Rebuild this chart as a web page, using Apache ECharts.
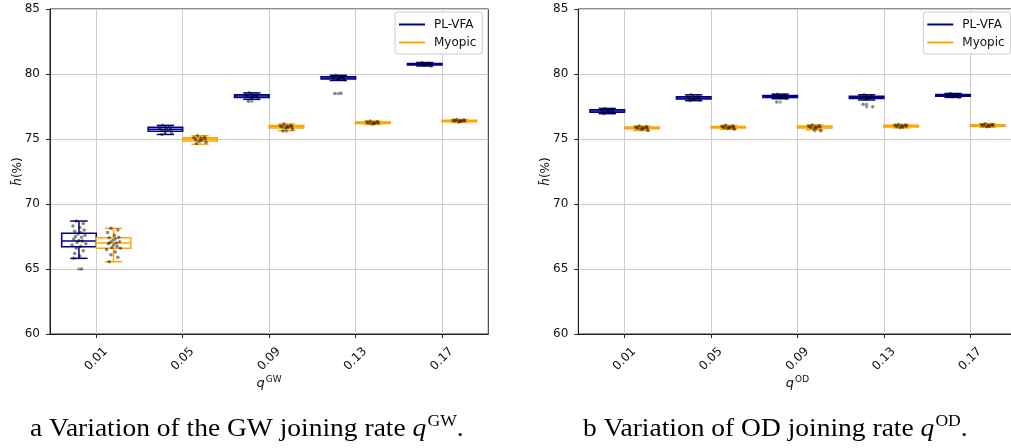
<!DOCTYPE html>
<html><head><meta charset="utf-8">
<script src="https://cdn.jsdelivr.net/npm/echarts@6/dist/echarts.min.js"></script>
<style>html,body{margin:0;padding:0;background:#fff}#c{width:1011px;height:448px}</style>
</head><body><div id="c"></div><script>
// ---------- data ----------
const categories = ['0.01', '0.05', '0.09', '0.13', '0.17'];
const seriesNames = ['PL-VFA', 'Myopic'];
const yTicks = [60, 65, 70, 75, 80, 85];

// box stats: [lower whisker, Q1, median, Q3, upper whisker]
const gwPLStats = [[65.82, 66.72, 67.15, 67.75, 68.69], [75.35, 75.6, 75.75, 75.9, 76.05], [78.05, 78.2, 78.3, 78.4, 78.55], [79.5, 79.62, 79.7, 79.78, 79.9], [80.62, 80.7, 80.75, 80.8, 80.88]];
const gwMyStats = [[65.56, 66.59, 67.0, 67.41, 68.13], [74.6, 74.85, 75.0, 75.1, 75.25], [75.65, 75.85, 75.95, 76.03, 76.15], [76.12, 76.2, 76.25, 76.3, 76.38], [76.28, 76.33, 76.4, 76.45, 76.5]];
const odPLStats = [[76.95, 77.05, 77.15, 77.25, 77.35], [77.95, 78.08, 78.15, 78.25, 78.4], [78.1, 78.2, 78.27, 78.35, 78.45], [78.0, 78.12, 78.2, 78.28, 78.4], [78.2, 78.28, 78.35, 78.42, 78.5]];
const odMyStats = [[75.65, 75.78, 75.85, 75.92, 76.0], [75.75, 75.85, 75.9, 75.97, 76.05], [75.7, 75.85, 75.92, 76.0, 76.08], [75.85, 75.93, 76.0, 76.05, 76.12], [75.9, 75.98, 76.05, 76.1, 76.18]];

// fliers
const gwPLOut = [[65.0], [], [77.9], [78.5], []];
const gwMyOut = [[], [], [75.62], [], []];
const odPLOut = [[], [], [77.85], [77.48, 77.67], []];
const odMyOut = [[], [], [75.64], [], []];

// individual runs (strip points)
const gwPLPts = [
  [68.69, 68.5, 68.3, 68.2, 68.0, 67.9, 67.8, 67.7, 67.6, 67.5, 67.45, 67.3, 67.2, 67.15, 67.05, 66.95, 66.85, 66.75, 66.6, 66.4, 66.2, 66.0, 65.82, 65.0],
  [76.05, 75.95, 75.85, 75.8, 75.75, 75.7, 75.65, 75.6, 75.5, 75.35],
  [78.55, 78.45, 78.4, 78.35, 78.3, 78.28, 78.25, 78.2, 78.1, 77.9],
  [79.9, 79.8, 79.75, 79.72, 79.7, 79.68, 79.65, 79.6, 79.55, 78.5, 78.52],
  [80.88, 80.82, 80.78, 80.76, 80.75, 80.73, 80.7, 80.68, 80.62]
];
const gwMyPts = [
  [68.13, 68.0, 67.8, 67.6, 67.45, 67.4, 67.3, 67.2, 67.1, 67.05, 67.0, 66.95, 66.85, 66.75, 66.65, 66.6, 66.5, 66.3, 66.1, 65.9, 65.56],
  [75.25, 75.15, 75.1, 75.05, 75.0, 74.95, 74.9, 74.85, 74.75, 74.65],
  [76.15, 76.05, 76.0, 75.98, 75.95, 75.92, 75.88, 75.85, 75.75, 75.62],
  [76.38, 76.32, 76.3, 76.27, 76.25, 76.23, 76.2, 76.15],
  [76.5, 76.47, 76.44, 76.42, 76.4, 76.38, 76.35, 76.3]
];
const odPLPts = [
  [77.35, 77.28, 77.22, 77.18, 77.15, 77.12, 77.08, 77.05, 77.0, 76.95],
  [78.4, 78.3, 78.25, 78.2, 78.15, 78.12, 78.1, 78.05, 78.0, 77.95],
  [78.45, 78.38, 78.33, 78.3, 78.27, 78.24, 78.2, 78.17, 78.12, 77.85],
  [78.4, 78.32, 78.28, 78.24, 78.2, 78.17, 78.13, 78.08, 77.48, 77.67],
  [78.5, 78.45, 78.42, 78.38, 78.35, 78.32, 78.29, 78.25, 78.2]
];
const odMyPts = [
  [76.0, 75.95, 75.9, 75.87, 75.85, 75.82, 75.79, 75.75, 75.65],
  [76.05, 76.0, 75.96, 75.92, 75.9, 75.88, 75.85, 75.8, 75.75],
  [76.08, 76.02, 75.98, 75.95, 75.92, 75.88, 75.85, 75.78, 75.64],
  [76.12, 76.08, 76.05, 76.02, 76.0, 75.97, 75.93, 75.88],
  [76.18, 76.12, 76.09, 76.06, 76.05, 76.02, 75.99, 75.95]
];

// ---------- layout / style ----------
const JITTER = [-0.03, 0.05, -0.07, 0.01, 0.06, -0.05, 0.02, -0.01, 0.07, -0.04, 0.03, -0.06, 0.0, 0.04, -0.02, 0.08, -0.08, 0.02, -0.03, 0.05, -0.05, 0.01, -0.06, 0.03];
const OFFS = [-0.2, 0.2];
const BOX_W = 0.4;
const COLORS = ['#00008b', '#ffa500'];
const FONT = 'DejaVu Sans';
const GRID_COL = '#cccccc';
const SPINE = '#222';
const XMIN = -0.535, XMAX = 4.535;
const GRIDS = [{left: 50, top: 9, width: 438.3, height: 325}, {left: 578.3, top: 9, width: 438.3, height: 325}];

function boxRender(offset, color) {
  return function (params, api) {
    const x = api.value(0) + offset;
    const low = api.coord([x, api.value(1)]);
    const q1 = api.coord([x, api.value(2)]);
    const med = api.coord([x, api.value(3)]);
    const q3 = api.coord([x, api.value(4)]);
    const high = api.coord([x, api.value(5)]);
    const half = api.size([BOX_W / 2, 0])[0];
    const cap = half / 2;
    const cx = low[0];
    const st = {stroke: color, lineWidth: 1.5, fill: null};
    return {type: 'group', children: [
      {type: 'line', shape: {x1: cx, y1: q1[1], x2: cx, y2: low[1]}, style: st},
      {type: 'line', shape: {x1: cx, y1: q3[1], x2: cx, y2: high[1]}, style: st},
      {type: 'line', shape: {x1: cx - cap, y1: low[1], x2: cx + cap, y2: low[1]}, style: st},
      {type: 'line', shape: {x1: cx - cap, y1: high[1], x2: cx + cap, y2: high[1]}, style: st},
      {type: 'rect', shape: {x: cx - half, y: q3[1], width: 2 * half, height: q1[1] - q3[1]}, style: {stroke: color, fill: 'none', lineWidth: 1.5}},
      {type: 'line', shape: {x1: cx - half, y1: med[1], x2: cx + half, y2: med[1]}, style: st}
    ]};
  };
}

function statsData(stats) { return stats.map((s, i) => [i].concat(s)); }
function ptsData(pts, off) {
  const out = [];
  pts.forEach((vals, i) => vals.forEach((v, k) => out.push([i + off + JITTER[k % JITTER.length], v])));
  return out;
}
function outData(outs, off) {
  const out = [];
  outs.forEach((vals, i) => vals.forEach(v => out.push([i + off, v])));
  return out;
}

const xAxes = [], yAxes = [], series = [], legends = [];
const datasets = [
  {stats: [gwPLStats, gwMyStats], pts: [gwPLPts, gwMyPts], outs: [gwPLOut, gwMyOut], sup: 'GW'},
  {stats: [odPLStats, odMyStats], pts: [odPLPts, odMyPts], outs: [odPLOut, odMyOut], sup: 'OD'}
];

datasets.forEach((d, g) => {
  xAxes.push({
    type: 'value', gridIndex: g, min: XMIN, max: XMAX,
    name: '{q|q}{s|' + d.sup + '}', nameLocation: 'middle', nameGap: 41, nameMoveOverlap: false,
    nameTextStyle: {rich: {
      q: {fontFamily: FONT, fontStyle: 'italic', fontSize: 13, color: '#111'},
      s: {fontFamily: FONT, fontSize: 9, color: '#111', padding: [0, 0, 9, 1]}
    }},
    axisLine: {show: true, onZero: false, lineStyle: {color: SPINE, width: 1}},
    axisTick: {show: true, length: 4, customValues: [0, 1, 2, 3, 4], lineStyle: {color: SPINE}},
    axisLabel: {customValues: [0, 1, 2, 3, 4], rotate: 45, align: 'center', verticalAlign: 'middle', margin: 25,
      fontFamily: FONT, fontSize: 12, color: '#111',
      formatter: v => categories[Math.round(v)]},
    splitLine: {show: true, lineStyle: {color: GRID_COL, width: 1}}
  });
  yAxes.push({
    type: 'value', gridIndex: g, min: 60, max: 85, interval: 5,
    name: '{h|h\u0304}(%)', nameLocation: 'middle', nameGap: 26, nameMoveOverlap: false,
    nameTextStyle: {fontFamily: FONT, fontSize: 12, color: '#111', rich: {h: {fontFamily: FONT, fontStyle: 'italic', fontSize: 12, color: '#111'}}},
    axisLine: {show: true, onZero: false, lineStyle: {color: SPINE, width: 1}},
    axisTick: {show: true, length: 4, lineStyle: {color: SPINE}},
    axisLabel: {margin: 10, fontFamily: FONT, fontSize: 12, color: '#111', formatter: v => (yTicks.indexOf(v) >= 0 ? String(v) : '')},
    splitLine: {show: true, lineStyle: {color: GRID_COL, width: 1}}
  });
  [0, 1].forEach(s => {
    series.push({
      type: 'custom', name: seriesNames[s], xAxisIndex: g, yAxisIndex: g,
      renderItem: boxRender(OFFS[s], COLORS[s]),
      itemStyle: {color: COLORS[s]},
      encode: {x: 0, y: [1, 2, 3, 4, 5]},
      data: statsData(d.stats[s]), z: 2
    });
  });
  [0, 1].forEach(s => {
    series.push({
      type: 'scatter', xAxisIndex: g, yAxisIndex: g, symbolSize: 3.5, silent: true,
      itemStyle: {color: 'rgba(0,0,0,0.6)'},
      data: ptsData(d.pts[s], OFFS[s]), z: 3
    });
    series.push({
      type: 'scatter', xAxisIndex: g, yAxisIndex: g, symbolSize: 3.5, silent: true,
      itemStyle: {color: 'rgba(80,80,80,0.7)'},
      data: outData(d.outs[s], OFFS[s]), z: 3
    });
  });
  legends.push({
    left: GRIDS[g].left + 345, top: 12, orient: 'vertical',
    data: seriesNames.map((n, i) => ({name: n, icon: 'rect', itemStyle: {color: COLORS[i]}})),
    itemWidth: 26, itemHeight: 2, itemGap: 5,
    textStyle: {fontFamily: FONT, fontSize: 12, color: '#111', lineHeight: 13, padding: [0, 0, 0, 4]},
    backgroundColor: 'rgba(255,255,255,0.85)', borderColor: '#cccccc', borderWidth: 1, borderRadius: 3,
    padding: [6, 6, 5, 4], selectedMode: false
  });
});

const CAP_FONT = 'Liberation Serif';
const capRich = {
  t: {fontFamily: CAP_FONT, fontSize: 25, fill: '#000'},
  q: {fontFamily: CAP_FONT, fontStyle: 'italic', fontSize: 25, fill: '#000'},
  s: {fontFamily: CAP_FONT, fontSize: 16, fill: '#000', padding: [0, 0, 14, 1]}
};

const chart = echarts.init(document.getElementById('c'), null, {renderer: 'canvas'});
chart.setOption({
  animation: false,
  backgroundColor: '#ffffff',
  grid: GRIDS.map(gr => Object.assign({show: true, borderColor: SPINE, borderWidth: 1, backgroundColor: 'transparent', containLabel: false, outerBoundsMode: 'none'}, gr)),
  xAxis: xAxes,
  yAxis: yAxes,
  legend: legends,
  series: series,
  graphic: [
    {type: 'text', x: 30, y: 414, scaleX: 1.1, style: {text: '{t|a Variation of the GW joining rate }{q|q}{s|GW}{t|.}', rich: capRich}},
    {type: 'text', x: 583, y: 414, scaleX: 1.1, style: {text: '{t|b Variation of OD joining rate }{q|q}{s|OD}{t|.}', rich: capRich}}
  ]
});
</script></body></html>
